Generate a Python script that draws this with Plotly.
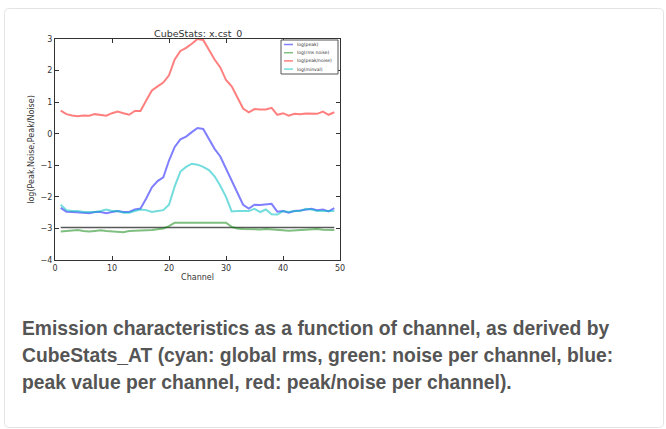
import plotly.graph_objects as go

# ---------------- data ----------------
channels = [1, 2, 3, 4, 5, 6, 7, 8, 9, 10, 11, 12, 13, 14, 15, 16, 17, 18, 19, 20,
            21, 22, 23, 24, 25, 26, 27, 28, 29, 30, 31, 32, 33, 34, 35, 36, 37, 38, 39, 40,
            41, 42, 43, 44, 45, 46, 47, 48, 49]

log_peak = [-2.35, -2.47, -2.48, -2.48, -2.50, -2.52, -2.48, -2.48, -2.52, -2.48,
            -2.45, -2.48, -2.48, -2.40, -2.37, -2.05, -1.70, -1.50, -1.38, -0.85,
            -0.42, -0.18, -0.09, 0.05, 0.18, 0.15, -0.18, -0.48, -0.72, -1.10,
            -1.45, -1.85, -2.25, -2.37, -2.25, -2.26, -2.25, -2.22, -2.47, -2.45,
            -2.50, -2.45, -2.43, -2.40, -2.38, -2.42, -2.40, -2.46, -2.36]

log_rms_noise = [-3.10, -3.09, -3.06, -3.05, -3.08, -3.10, -3.08, -3.06, -3.08, -3.10,
                 -3.12, -3.12, -3.08, -3.08, -3.06, -3.06, -3.05, -3.03, -3.00, -2.93,
                 -2.82, -2.82, -2.82, -2.82, -2.82, -2.82, -2.82, -2.82, -2.82, -2.82,
                 -2.95, -3.00, -3.02, -3.03, -3.03, -3.03, -3.02, -3.04, -3.05, -3.06,
                 -3.07, -3.06, -3.03, -3.02, -3.02, -3.02, -3.04, -3.05, -3.05]

log_peak_noise = [0.73, 0.62, 0.58, 0.55, 0.58, 0.57, 0.62, 0.60, 0.57, 0.65,
                  0.70, 0.65, 0.60, 0.72, 0.72, 1.05, 1.37, 1.50, 1.62, 1.85,
                  2.35, 2.62, 2.72, 2.85, 3.00, 2.97, 2.65, 2.35, 2.10, 1.70,
                  1.50, 1.15, 0.80, 0.68, 0.78, 0.77, 0.77, 0.82, 0.60, 0.65,
                  0.57, 0.63, 0.62, 0.64, 0.63, 0.63, 0.70, 0.60, 0.68]

log_minval = [-2.25, -2.42, -2.45, -2.45, -2.48, -2.48, -2.48, -2.45, -2.40, -2.45,
              -2.45, -2.50, -2.50, -2.45, -2.40, -2.42, -2.48, -2.45, -2.42, -2.25,
              -1.67, -1.20, -1.05, -0.95, -0.98, -1.05, -1.15, -1.35, -1.65, -2.00,
              -2.46, -2.45, -2.45, -2.45, -2.38, -2.48, -2.40, -2.55, -2.56, -2.45,
              -2.48, -2.45, -2.45, -2.38, -2.40, -2.45, -2.45, -2.45, -2.45]

global_rms_level = -2.97
rms_span = [1, 49]

series_names = ["log(peak)", "log(rms noise)", "log(peak/noise)", "log(minval)"]
series_colors = ["rgba(0,0,255,0.5)", "rgba(0,128,0,0.5)", "rgba(255,0,0,0.5)", "rgba(0,191,191,0.55)"]

x_ticks = [0, 10, 20, 30, 40, 50]
y_ticks = [-4, -3, -2, -1, 0, 1, 2, 3]

caption_lines = [
    "Emission characteristics as a function of channel, as derived by",
    "CubeStats_AT (cyan: global rms, green: noise per channel, blue:",
    "peak value per channel, red: peak/noise per channel).",
]

# ---------------- layout geometry (pixels) ----------------
W, H = 666, 429
L, R, T, B = 55, 340, 39, 260


def px(x):
    return (x - L) / (R - L)


def py(y):
    return (B - y) / (B - T)


fig = go.Figure()

# black global rms line
fig.add_trace(go.Scatter(x=rms_span, y=[global_rms_level, global_rms_level], mode="lines",
                         line=dict(color="rgba(0,0,0,0.65)", width=1.5), showlegend=False,
                         hoverinfo="skip"))

for name, ys, col in zip(series_names, [log_peak, log_rms_noise, log_peak_noise, log_minval], series_colors):
    fig.add_trace(go.Scatter(x=channels, y=ys, mode="lines", name=name,
                             line=dict(color=col, width=2), showlegend=False))

axis_common = dict(showgrid=False, zeroline=False, showline=True, linecolor="#333",
                   linewidth=1, mirror="allticks", ticks="inside", ticklen=4,
                   tickcolor="#333", tickfont=dict(family="DejaVu Sans", size=8, color="#333"))

fig.update_xaxes(range=[0, 50], tickvals=x_ticks, ticktext=[str(v) for v in x_ticks],
                 title=dict(text="Channel", font=dict(family="DejaVu Sans", size=8, color="#333"),
                            standoff=2), **axis_common)
fig.update_yaxes(range=[-4, 3], tickvals=y_ticks,
                 ticktext=[("\u2212" + str(-v)) if v < 0 else str(v) for v in y_ticks],
                 title=dict(text="log(Peak,Noise,Peak/Noise)",
                            font=dict(family="DejaVu Sans", size=8, color="#333"), standoff=4),
                 **axis_common)

shapes = []
anns = []

# card border (rounded rectangle)
cx0, cy0, cx1, cy1, r = 4.5, 8.5, 663.5, 427.5, 5
path = (f"M {px(cx0 + r)},{py(cy0)} L {px(cx1 - r)},{py(cy0)} Q {px(cx1)},{py(cy0)} {px(cx1)},{py(cy0 + r)} "
        f"L {px(cx1)},{py(cy1 - r)} Q {px(cx1)},{py(cy1)} {px(cx1 - r)},{py(cy1)} "
        f"L {px(cx0 + r)},{py(cy1)} Q {px(cx0)},{py(cy1)} {px(cx0)},{py(cy1 - r)} "
        f"L {px(cx0)},{py(cy0 + r)} Q {px(cx0)},{py(cy0)} {px(cx0 + r)},{py(cy0)} Z")
shapes.append(dict(type="path", xref="paper", yref="paper", path=path,
                   line=dict(color="#e3e3e3", width=1), layer="below"))

# title
anns.append(dict(text="CubeStats: x.cst_0", xref="paper", yref="paper", x=0.5, y=py(33),
                 showarrow=False, xanchor="center", yanchor="middle",
                 font=dict(family="DejaVu Sans", size=9.5, color="#333")))

# legend (manual, matplotlib style)
lx0, ly0, lx1, ly1 = 281, 40, 338, 74
shapes.append(dict(type="rect", xref="paper", yref="paper", x0=px(lx0), x1=px(lx1),
                   y0=py(ly0), y1=py(ly1), line=dict(color="#555", width=1), fillcolor="white"))
for i, (name, col) in enumerate(zip(series_names, series_colors)):
    yy = 44.5 + i * 8.2
    shapes.append(dict(type="line", xref="paper", yref="paper", x0=px(284), x1=px(293),
                       y0=py(yy), y1=py(yy), line=dict(color=col, width=1.5)))
    anns.append(dict(text=name, xref="paper", yref="paper", x=px(295), y=py(yy),
                     showarrow=False, xanchor="left", yanchor="middle",
                     font=dict(family="DejaVu Sans", size=4.5, color="#333")))

# caption
for i, line in enumerate(caption_lines):
    anns.append(dict(text="<b>" + line + "</b>", xref="paper", yref="paper", x=px(20),
                     y=py(328 + i * 27), showarrow=False, xanchor="left", yanchor="middle",
                     font=dict(family="Liberation Sans", size=19.3, color="#555")))

fig.update_layout(width=W, height=H, autosize=False,
                  margin=dict(l=L, r=W - R, t=T, b=H - B, pad=0),
                  paper_bgcolor="white", plot_bgcolor="white",
                  shapes=shapes, annotations=anns, showlegend=False)

fig.write_html("out.html", config={"displayModeBar": False})
